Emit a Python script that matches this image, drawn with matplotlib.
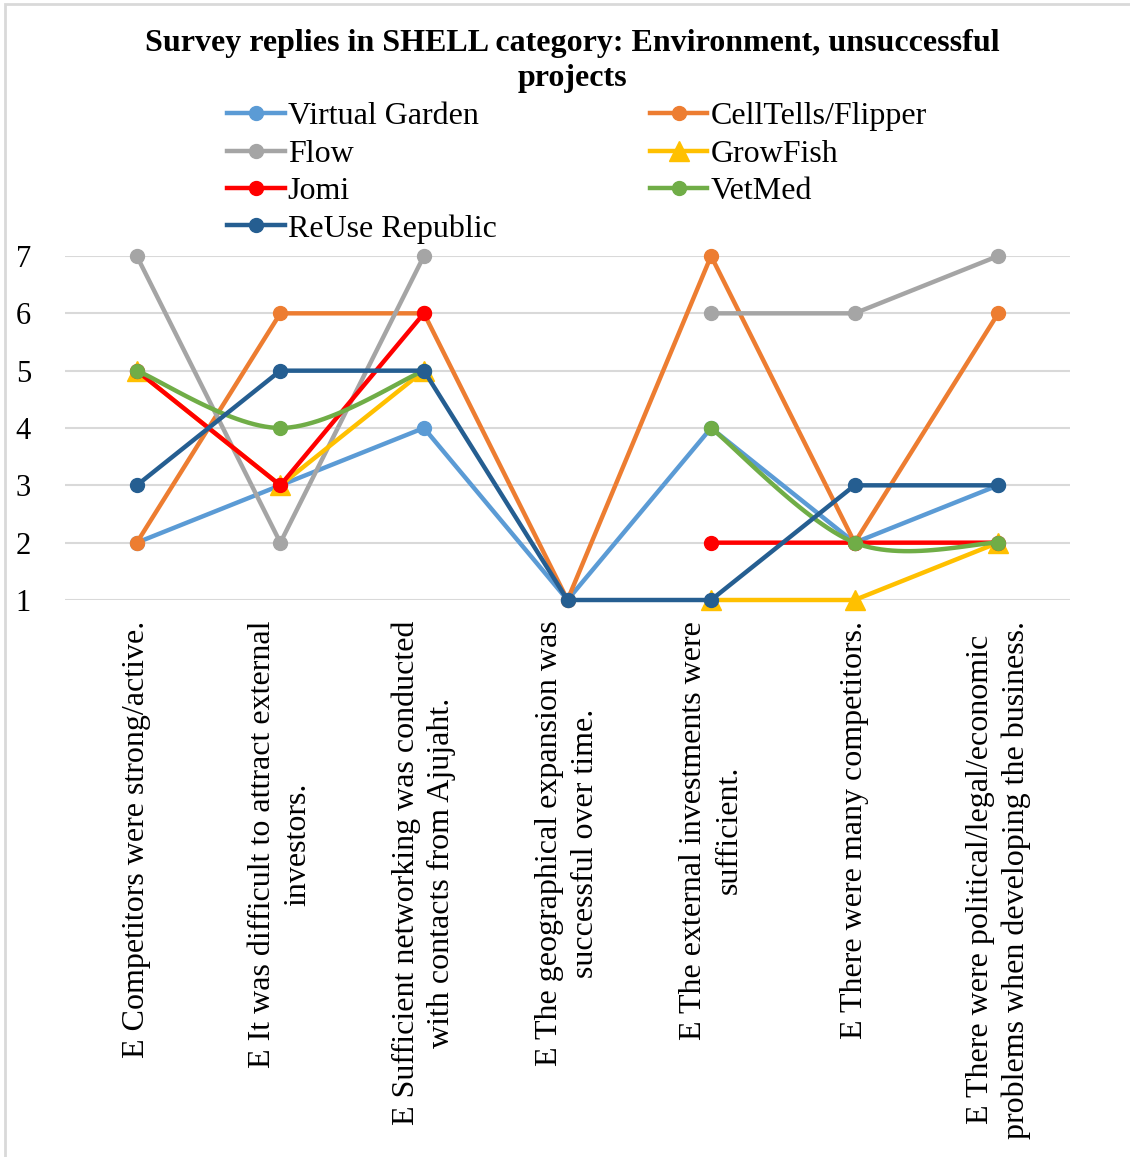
import numpy as np
import matplotlib.pyplot as plt
from matplotlib.lines import Line2D
from matplotlib.patches import Rectangle

plt.rcParams['font.family'] = ['Liberation Serif', 'DejaVu Serif']

categories = [
    'E Competitors were strong/active.',
    'E It was difficult to attract external\ninvestors.',
    'E Sufficient networking was conducted\nwith contacts from Ajujaht.',
    'E The geographical expansion was\nsuccessful over time.',
    'E The external investments were\nsufficient.',
    'E There were many competitors.',
    'E There were political/legal/economic\nproblems when developing the business.',
]

nan = np.nan
virtual_garden = [2, 3, 4, 1, 4, 2, 3]
celltells = [2, 6, 6, 1, 7, 2, 6]
flow = [7, 2, 7, nan, 6, 6, 7]
growfish = [5, 3, 5, nan, 1, 1, 2]
jomi = [5, 3, 6, nan, 2, 2, 2]
vetmed = [5, 4, 5, nan, 4, 2, 2]
reuse = [3, 5, 5, 1, 1, 3, 3]

LW = 3.2
MS = 10
GRID = '#D9D9D9'


def smooth_segment(xs, ys, n=30):
    # catmull-rom style bezier through one run of points
    px, py = [], []
    k = len(xs)
    for i in range(k - 1):
        x0, y0 = xs[i], ys[i]
        x1, y1 = xs[i + 1], ys[i + 1]
        xm, ym = (xs[i - 1], ys[i - 1]) if i > 0 else (x0, y0)
        xp, yp = (xs[i + 2], ys[i + 2]) if i + 2 < k else (x1, y1)
        c1x, c1y = x0 + (x1 - xm) / 6, y0 + (y1 - ym) / 6
        c2x, c2y = x1 - (xp - x0) / 6, y1 - (yp - y0) / 6
        t = np.linspace(0, 1, n)
        a, b, c, d = (1 - t) ** 3, 3 * (1 - t) ** 2 * t, 3 * (1 - t) * t ** 2, t ** 3
        px.extend(a * x0 + b * c1x + c * c2x + d * x1)
        py.extend(a * y0 + b * c1y + c * c2y + d * y1)
    return px, py


def plot_smooth(ax, vals, color):
    x = np.arange(len(vals))
    v = np.array(vals, dtype=float)
    runs, cur = [], []
    for i, val in enumerate(v):
        if np.isnan(val):
            if cur:
                runs.append(cur)
            cur = []
        else:
            cur.append(i)
    if cur:
        runs.append(cur)
    for r in runs:
        sx, sy = smooth_segment(x[r], v[r])
        ax.plot(sx, sy, color=color, lw=LW, solid_capstyle='round', clip_on=False)
    ax.plot(x, v, 'o', color=color, ms=MS, ls='none', clip_on=False)


fig = plt.figure(figsize=(11.3, 11.57), dpi=100)
ax = fig.add_axes([65 / 1130, 1 - 600 / 1157, 1005 / 1130, 344 / 1157])

x = np.arange(len(categories))
kw = dict(lw=LW, ms=MS, clip_on=False)
ax.plot(x, virtual_garden, '-o', color='#5B9BD5', **kw)
ax.plot(x, celltells, '-o', color='#ED7D31', **kw)
ax.plot(x, flow, '-o', color='#A5A5A5', **kw)
ax.plot(x, growfish, '-^', color='#FFC000', lw=LW, ms=MS + 5, clip_on=False)
ax.plot(x, jomi, '-o', color='#FF0000', **kw)
plot_smooth(ax, vetmed, '#70AD47')
ax.plot(x, reuse, '-o', color='#255E91', **kw)

ax.set_xlim(-0.5, len(categories) - 0.5)
ax.set_ylim(1, 7)
ax.set_yticks(range(1, 8))
ax.yaxis.grid(True, color=GRID, lw=1.5)
ax.set_axisbelow(True)
for s in ax.spines.values():
    s.set_visible(False)
ax.tick_params(axis='both', length=0, labelsize=22)
ax.tick_params(axis='y', pad=30)
ax.tick_params(axis='x', pad=15)
ax.set_xticks(x)
ax.set_xticklabels(categories, rotation=90, ha='center', va='top',
                   multialignment='center', fontsize=23, linespacing=1.3)
for lab in ax.get_yticklabels():
    lab.set_horizontalalignment('center')

fig.text(572 / 1130, 1 - 61 / 1157,
         'Survey replies in SHELL category: Environment, unsuccessful\nprojects',
         ha='center', va='center', fontsize=23, fontweight='bold', linespacing=1.25)

# legend laid out row by row: left column then right column
def handle(color, marker, ms=10):
    return Line2D([], [], color=color, lw=LW, marker=marker, ms=ms)

handles = [handle('#5B9BD5', 'o'), handle('#A5A5A5', 'o'), handle('#FF0000', 'o'),
           handle('#255E91', 'o'), handle('#ED7D31', 'o'), handle('#FFC000', '^', 14),
           handle('#70AD47', 'o')]
labels = ['Virtual Garden', 'Flow', 'Jomi', 'ReUse Republic',
          'CellTells/Flipper', 'GrowFish', 'VetMed']
fig.legend(handles, labels, ncol=2, loc='upper left',
           bbox_to_anchor=(227 / 1130, 1 - 102 / 1157), frameon=False,
           fontsize=23, handlelength=1.8, handletextpad=0.1,
           columnspacing=4.8, labelspacing=0.25, borderpad=0, borderaxespad=0)

fig.add_artist(Rectangle((5 / 1130, -0.05), 1.2, 1.05 - 4 / 1157,
                         transform=fig.transFigure, fill=False,
                         edgecolor=GRID, lw=2))

fig.savefig('out.png', dpi=100)
